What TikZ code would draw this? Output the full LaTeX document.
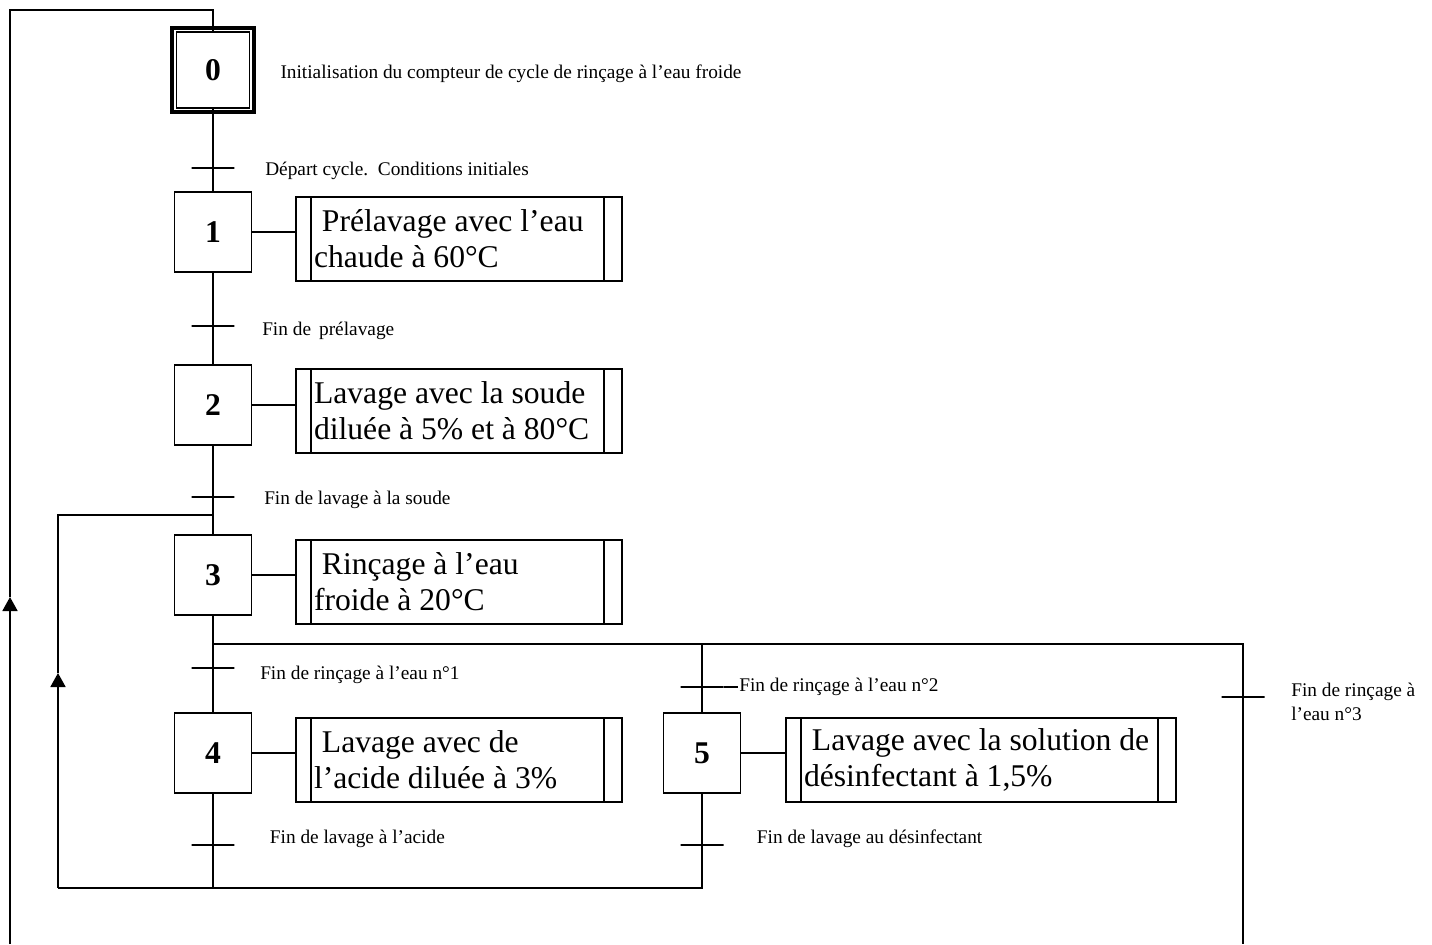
\documentclass[tikz,border=0pt]{standalone}
\usepackage{fontspec}
\setmainfont{Liberation Serif}
\usetikzlibrary{arrows.meta, positioning, fit}

\begin{document}
\begin{tikzpicture}[
  x=0.02cm, y=-0.02cm, line width=1pt,
  etape/.style={rectangle, draw, minimum width=1.54cm, minimum height=1.6cm, inner sep=0pt, font=\fontsize{18}{20}\selectfont\bfseries},
  action/.style={rectangle, draw, minimum width=6.52cm, minimum height=1.68cm, inner sep=0pt,
    path picture={
      \draw ([xshift=0.3cm]path picture bounding box.north west) -- ([xshift=0.3cm]path picture bounding box.south west);
      \draw ([xshift=-0.36cm]path picture bounding box.north east) -- ([xshift=-0.36cm]path picture bounding box.south east);}},
  acttxt/.style={align=left, inner sep=0pt, font=\fontsize{18}{20.5}\selectfont},
  trans/.style={rectangle, draw, minimum width=0.86cm, minimum height=0pt, inner sep=0pt},
  recept/.style={align=left, inner sep=0pt, font=\fontsize{11}{13.5}\selectfont},
  fleche/.style={-{Triangle[width=0.3cm, length=0.28cm]}},
  fin/.style={line width=0.6pt}
]
  \useasboundingbox (0,0) rectangle (1432,944);

  % etapes
  \node[etape, minimum width=1.46cm, minimum height=1.52cm, line width=0.8pt] (s0) at (213,70) {0};
  \node[draw, line width=2.2pt, inner sep=0.07cm, fit=(s0)] (s0f) {};
  \node[etape] (s1) at (213,232) {1};
  \node[etape] (s2) at (213,405) {2};
  \node[etape] (s3) at (213,575) {3};
  \node[etape] (s4) at (213,753) {4};
  \node[etape] (s5) at (702,753) {5};

  % actions
  \node[recept, right=0.48cm of s0f, yshift=-0.08cm] (a0) {Initialisation du compteur de cycle de rinçage à l’eau froide};
  \node[action] (a1) at (459,239) {};
  \node[action] (a2) at (459,411) {};
  \node[action] (a3) at (459,582) {};
  \node[action] (a4) at (459,760) {};
  \node[action, minimum width=7.8cm] (a5) at (981,760) {};
  \node[acttxt, right=0.36cm of a1.west] (x1) {\ Prélavage avec l’eau\\chaude à 60°C};
  \node[acttxt, right=0.36cm of a2.west] (x2) {Lavage avec la soude\\diluée à 5\% et à 80°C};
  \node[acttxt, right=0.36cm of a3.west] (x3) {\ Rinçage à l’eau\\froide à 20°C};
  \node[acttxt, right=0.36cm of a4.west] (x4) {\ Lavage avec de\\l’acide diluée à 3\%};
  \node[acttxt, right=0.36cm of a5.west] (x5) {\ Lavage avec la solution de\\désinfectant à 1,5\%};
  \foreach \i in {1,...,5}
    \draw (s\i.east) -- (s\i.east -| a\i.west);

  % transitions
  \node[trans] (t01) at (213,168) {};
  \node[trans] (t12) at (213,326) {};
  \node[trans] (t23) at (213,497) {};
  \node[trans] (t34) at (213,668) {};
  \node[trans] (t35) at (702,687) {};
  \node[trans] (t30) at (1243,697) {};
  \node[trans, fin] (t4) at (213,845) {};
  \node[trans, fin] (t5) at (702,845) {};
  \node[recept, right=0.58cm of t01, yshift=-0.06cm] (r01) {Départ cycle.\, Conditions initiales};
  \node[recept, right=0.52cm of t12, yshift=-0.1cm] (r12) {Fin de\, prélavage};
  \node[recept, right=0.56cm of t23, yshift=-0.06cm] (r23) {Fin de lavage à la soude};
  \node[recept, right=0.48cm of t34, yshift=-0.14cm] (r34) {Fin de rinçage à l’eau n°1};
  \node[recept, right=0.28cm of t35] (r35) {Fin de rinçage à l’eau n°2};
  \node[recept, right=0.5cm of t30, yshift=-0.1cm] (r30) {Fin de rinçage à\\l’eau n°3};
  \node[recept, right=0.68cm of t4, yshift=0.12cm] (r4) {Fin de lavage à l’acide};
  \node[recept, right=0.64cm of t5, yshift=0.12cm] (r5) {Fin de lavage au désinfectant};
  \draw (t35.east) -- (r35.west);

  % liaisons
  \coordinate (tt) at (213,10);
  \coordinate (tl) at (10,10);
  \coordinate (up0) at (10,597);
  \coordinate (bl) at (10,944);
  \coordinate (j3) at (213,515);
  \coordinate (jl) at (58,515);
  \coordinate (up3) at (58,673);
  \coordinate (cl) at (58,888);
  \coordinate (c4) at (213,888);
  \coordinate (c5) at (702,888);
  \coordinate (d3) at (213,644);
  \coordinate (d5) at (702,644);
  \coordinate (d0) at (1243,644);
  \coordinate (b0) at (1243,944);

  \draw (s0.south) -- (s1.north);
  \draw (s1.south) -- (s2.north);
  \draw (s2.south) -- (s3.north);
  \draw (s3.south) -- (s4.north);
  \draw (d3) -- (d0) -- (b0);
  \draw (d5) -- (s5.north);
  \draw[fin] (s4.south) -- (c4);
  \draw[fin] (s5.south) -- (c5) -- (cl);
  \draw[fleche] (cl) -- (up3);
  \draw (up3) -- (jl) -- (j3);
  \draw[fleche] (bl) -- (up0);
  \draw (up0) -- (tl) -- (tt) -- (s0.north);
\end{tikzpicture}
\end{document}
